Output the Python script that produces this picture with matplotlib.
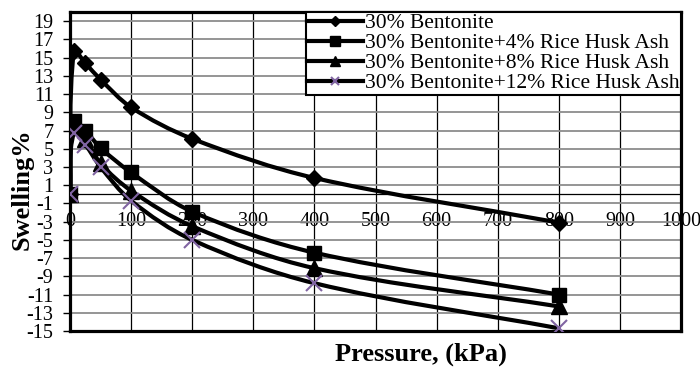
import matplotlib
matplotlib.use("Agg")
import matplotlib.pyplot as plt
import numpy as np
from matplotlib.path import Path
from matplotlib.patches import PathPatch
from matplotlib.lines import Line2D

plt.rcParams["font.family"] = "Liberation Serif"
plt.rcParams["axes.unicode_minus"] = False

# swelling test results
pressure = [0, 6.25, 25, 50, 100, 200, 400, 800]
bentonite = [0, 15.7, 14.4, 12.6, 9.55, 6.1, 1.8, -3.1]
rha_4 = [0, 8.0, 7.0, 5.1, 2.4, -1.9, -6.4, -11.0]
rha_8 = [0, 7.4, 6.1, 3.4, 0.4, -3.5, -8.1, -12.3]
rha_12 = [0, 6.7, 5.45, 3.0, -0.7, -5.0, -9.75, -14.7]

labels = ["30% Bentonite",
          "30% Bentonite+4% Rice Husk Ash",
          "30% Bentonite+8% Rice Husk Ash",
          "30% Bentonite+12% Rice Husk Ash"]

purple = "#8064A2"

fig = plt.figure(figsize=(7, 3.67), dpi=100)
ax = fig.add_axes([0.1, 0.098, 0.873, 0.869])
ax.set_xlim(0, 1000)
ax.set_ylim(-15, 20)
ax.set_xticks(np.arange(0, 1001, 100))
ax.set_yticks(np.arange(-15, 20, 2))


def smooth_path(xs, ys):
    # excel-like smoothed line, tangents worked out in pixel space
    pix = ax.transData.transform(np.column_stack([xs, ys]))
    n = len(pix)
    verts = [pix[0]]
    codes = [Path.MOVETO]
    for i in range(n - 1):
        p0 = pix[max(i - 1, 0)]
        p1 = pix[i]
        p2 = pix[i + 1]
        p3 = pix[min(i + 2, n - 1)]
        seg = np.hypot(*(p2 - p1))
        t1 = p2 - p0
        t1 = t1 / np.hypot(*t1)
        t2 = p3 - p1
        t2 = t2 / np.hypot(*t2)
        verts += [p1 + t1 * seg / 3, p2 - t2 * seg / 3, p2]
        codes += [Path.CURVE4] * 3
    verts = ax.transData.inverted().transform(np.array(verts))
    return Path(verts, codes)


series = [
    (bentonite, dict(marker="D", ms=8, mfc="black", mec="black")),
    (rha_4, dict(marker="s", ms=10.5, mfc="black", mec="black")),
    (rha_8, dict(marker="^", ms=11, mfc="black", mec="black")),
    (rha_12, dict(marker="x", ms=11, mec=purple, mew=1.5)),
]

for vals, style in series:
    ax.add_patch(PathPatch(smooth_path(pressure, vals), facecolor="none",
                           edgecolor="black", lw=3, zorder=3))
for vals, style in series:
    ax.plot(pressure, vals, ls="none", zorder=4, **style)

# grid and frame
ax.set_axisbelow(True)
ax.xaxis.grid(True, color="black", lw=0.9)
ax.yaxis.grid(True, color="#8c8c8c", lw=1.3)
for side in ["top", "bottom", "left", "right"]:
    ax.spines[side].set_linewidth(2.3)

ax.tick_params(axis="x", length=0, labelbottom=False)
ax.tick_params(axis="y", length=5, width=1, labelsize=14.5, pad=7)

# x axis crosses at zero
secax = ax.secondary_xaxis(15 / 35)
secax.set_xticks(np.arange(0, 1001, 100))
secax.spines["bottom"].set_linewidth(0.9)
secax.tick_params(axis="x", length=0, labelsize=14.5, pad=13)

fig.text(0.602, 0.035, "Pressure, (kPa)", ha="center", va="center",
         fontsize=19, fontweight="bold")
fig.text(0.031, 0.485, "Swelling%", ha="center", va="center", rotation=90,
         fontsize=19, fontweight="bold")

handles = [
    Line2D([], [], color="black", lw=3, marker="D", ms=5),
    Line2D([], [], color="black", lw=3, marker="s", ms=7),
    Line2D([], [], color="black", lw=3, marker="^", ms=7),
    Line2D([], [], color="black", lw=3, marker="x", ms=6, mec=purple, mew=1.5),
]
leg = ax.legend(handles, labels, loc="upper right", fontsize=15.5,
                frameon=True, fancybox=False, borderaxespad=0,
                handlelength=2.6, handletextpad=0.1, borderpad=0.05,
                labelspacing=0.0)
leg.get_frame().set_edgecolor("black")
leg.get_frame().set_linewidth(1.5)
leg.get_frame().set_alpha(1)

fig.savefig("out.png", dpi=100)
